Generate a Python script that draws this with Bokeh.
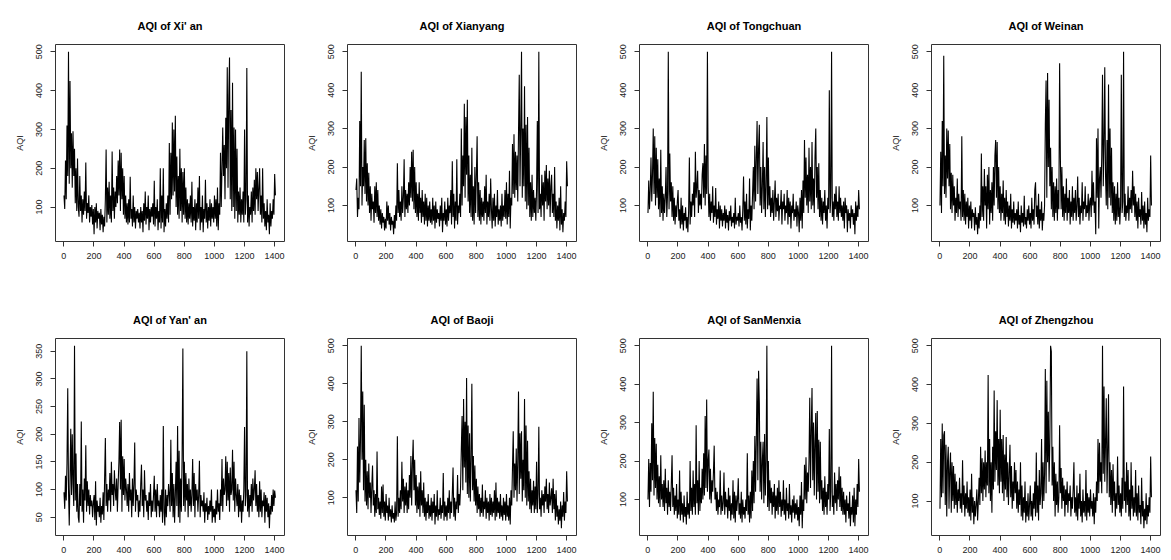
from bokeh.plotting import figure
from bokeh.layouts import column, row
from bokeh.models import Range1d, FixedTicker
from bokeh.embed import file_html
from bokeh.resources import INLINE

DAY_STEP = 5

titles = ["AQI of Xi' an", "AQI of Xianyang", "AQI of Tongchuan", "AQI of Weinan",
          "AQI of Yan' an", "AQI of Baoji", "AQI of SanMenxia", "AQI of Zhengzhou"]

xian = [
    130, 95, 220, 120, 310, 180, 500, 160, 425, 200, 290, 150, 295, 180, 250, 110, 200, 90, 225, 100,
    75, 180, 90, 130, 60, 120, 80, 140, 90, 215, 70, 110, 85, 130, 60, 100, 75, 105, 55, 95,
    30, 100, 60, 110, 45, 90, 70, 85, 40, 95, 55, 80, 35, 75, 50, 120, 248, 60, 150, 80,
    165, 70, 130, 60, 243, 90, 150, 70, 140, 100, 180, 110, 220, 130, 248, 90, 240, 120, 200, 80,
    180, 70, 130, 60, 110, 55, 120, 60, 178, 70, 95, 50, 130, 60, 100, 45, 90, 70, 95, 60,
    85, 45, 100, 60, 90, 35, 110, 65, 140, 55, 100, 70, 130, 40, 95, 60, 100, 75, 110, 55,
    168, 50, 100, 70, 120, 40, 90, 60, 200, 45, 130, 60, 200, 35, 95, 50, 110, 70, 130, 60,
    265, 80, 240, 120, 318, 130, 300, 140, 335, 100, 230, 80, 180, 70, 250, 90, 200, 60, 190, 80,
    200, 70, 150, 60, 120, 55, 110, 70, 130, 60, 165, 50, 100, 65, 120, 40, 110, 60, 150, 70,
    180, 40, 100, 60, 130, 35, 95, 70, 170, 60, 110, 45, 100, 65, 120, 50, 110, 70, 100, 60,
    130, 70, 120, 50, 150, 40, 110, 80, 240, 100, 200, 305, 180, 260, 120, 330, 200, 460, 150, 380,
    485, 120, 350, 90, 420, 100, 305, 70, 300, 90, 250, 60, 140, 80, 150, 60, 120, 80, 140, 60,
    300, 80, 120, 458, 60, 130, 50, 100, 80, 140, 60, 150, 90, 170, 80, 200, 120, 190, 90, 150,
    200, 80, 130, 60, 200, 70, 110, 50, 90, 40, 120, 60, 80, 30, 110, 50, 90, 70, 120, 80,
    185, 130,
]

xianyang = [
    140, 170, 70, 120, 90, 320, 150, 448, 100, 200, 150, 270, 130, 275, 110, 210, 100, 185, 80, 150,
    60, 130, 90, 110, 55, 150, 80, 160, 70, 140, 60, 100, 50, 90, 40, 80, 55, 70, 35, 65,
    40, 110, 60, 100, 50, 80, 35, 70, 50, 60, 25, 75, 40, 100, 60, 210, 80, 140, 70, 110,
    60, 150, 80, 120, 220, 70, 140, 90, 130, 80, 160, 100, 200, 120, 240, 110, 245, 90, 200, 80,
    160, 70, 130, 60, 160, 80, 120, 55, 140, 70, 110, 50, 130, 60, 120, 45, 100, 60, 110, 55,
    90, 50, 120, 60, 100, 40, 110, 55, 90, 65, 80, 45, 100, 60, 120, 30, 80, 60, 110, 50,
    90, 45, 120, 60, 100, 80, 140, 50, 215, 70, 130, 40, 110, 60, 220, 50, 100, 80, 130, 70,
    300, 100, 230, 150, 365, 120, 330, 180, 375, 110, 230, 80, 180, 70, 250, 60, 150, 50, 200, 80,
    180, 280, 70, 160, 60, 140, 50, 120, 70, 110, 60, 150, 80, 180, 50, 110, 70, 130, 60, 170,
    90, 40, 120, 60, 130, 45, 100, 70, 140, 50, 90, 60, 100, 45, 130, 60, 100, 70, 140, 65,
    160, 50, 130, 70, 190, 40, 120, 100, 260, 130, 285, 120, 240, 140, 230, 110, 290, 440, 150, 300,
    500, 120, 300, 150, 410, 110, 310, 90, 330, 100, 250, 70, 160, 60, 180, 70, 140, 80, 120, 60,
    140, 320, 80, 500, 90, 130, 70, 180, 100, 160, 60, 190, 110, 205, 90, 170, 100, 190, 70, 150,
    180, 80, 130, 70, 200, 60, 110, 40, 100, 60, 120, 35, 150, 50, 90, 30, 80, 60, 110, 70,
    215, 150,
]

tongchuan = [
    80, 165, 90, 140, 225, 110, 180, 300, 130, 280, 100, 250, 120, 220, 90, 170, 70, 245, 80, 150,
    60, 130, 80, 120, 200, 70, 130, 500, 90, 235, 110, 160, 70, 150, 60, 120, 50, 100, 70, 110,
    140, 60, 90, 40, 120, 50, 100, 35, 80, 60, 95, 40, 70, 30, 85, 225, 50, 110, 70, 130,
    100, 160, 70, 240, 120, 150, 190, 80, 140, 100, 130, 90, 180, 210, 120, 260, 100, 230, 130, 500,
    150, 70, 130, 60, 110, 80, 150, 55, 100, 70, 145, 50, 90, 65, 110, 40, 100, 60, 90, 45,
    80, 60, 100, 40, 90, 55, 75, 35, 85, 60, 100, 45, 70, 55, 80, 40, 120, 50, 70, 60,
    80, 45, 100, 55, 70, 35, 90, 175, 60, 110, 50, 130, 40, 90, 65, 170, 35, 100, 60, 130,
    200, 90, 255, 110, 220, 320, 130, 250, 310, 100, 200, 80, 150, 265, 90, 200, 70, 150, 330, 90,
    225, 100, 150, 70, 120, 80, 140, 60, 110, 165, 70, 120, 85, 130, 60, 100, 90, 140, 50, 110,
    90, 130, 60, 100, 80, 140, 50, 120, 70, 110, 40, 100, 80, 130, 60, 90, 70, 110, 45, 100,
    80, 30, 120, 60, 140, 40, 165, 80, 270, 120, 225, 100, 180, 80, 250, 110, 200, 90, 265, 100,
    170, 80, 230, 300, 120, 200, 90, 210, 70, 140, 60, 120, 50, 110, 80, 140, 60, 100, 40, 120,
    90, 400, 80, 120, 500, 70, 110, 60, 130, 90, 150, 70, 110, 60, 150, 80, 120, 70, 100, 60,
    110, 40, 120, 80, 100, 30, 90, 60, 80, 40, 100, 70, 90, 50, 80, 25, 110, 60, 100, 70,
    140, 90,
]

weinan = [
    100, 240, 80, 320, 150, 490, 130, 230, 120, 300, 170, 295, 150, 260, 90, 185, 80, 180, 100, 150,
    60, 120, 80, 170, 70, 130, 90, 110, 60, 280, 70, 140, 60, 130, 50, 110, 70, 120, 40, 100,
    60, 110, 40, 90, 70, 80, 35, 95, 50, 70, 25, 80, 40, 100, 60, 235, 70, 150, 60, 195,
    100, 150, 40, 180, 90, 200, 50, 140, 80, 160, 60, 200, 100, 230, 270, 120, 265, 90, 200, 80,
    150, 60, 130, 80, 165, 60, 120, 50, 140, 70, 110, 45, 100, 60, 130, 40, 90, 55, 110, 50,
    80, 60, 90, 40, 110, 50, 75, 30, 100, 55, 80, 45, 125, 50, 70, 40, 90, 60, 100, 50,
    80, 40, 120, 60, 90, 50, 140, 160, 70, 100, 50, 130, 40, 90, 60, 110, 35, 80, 60, 100,
    310, 425, 120, 445, 200, 375, 150, 250, 90, 200, 70, 160, 60, 150, 80, 170, 60, 140, 90, 470,
    225, 90, 200, 70, 150, 60, 130, 80, 170, 60, 120, 80, 140, 50, 110, 70, 150, 60, 120, 80,
    140, 60, 100, 175, 70, 120, 50, 100, 80, 160, 60, 110, 90, 150, 70, 100, 80, 130, 60, 110,
    120, 70, 190, 100, 160, 80, 110, 25, 275, 120, 300, 40, 170, 200, 120, 230, 440, 150, 260, 460,
    180, 100, 270, 90, 415, 120, 300, 100, 250, 80, 160, 60, 150, 50, 130, 60, 160, 70, 120, 50,
    100, 440, 80, 110, 500, 70, 130, 60, 100, 80, 150, 60, 120, 90, 140, 80, 190, 100, 150, 70,
    130, 60, 110, 40, 120, 70, 90, 50, 135, 60, 100, 40, 110, 50, 80, 30, 120, 60, 90, 70,
    230, 100,
]

yanan = [
    95, 65, 125, 80, 148, 283, 100, 35, 120, 210, 90, 200, 110, 70, 360, 80, 165, 60, 110, 50,
    40, 110, 70, 223, 60, 100, 40, 120, 80, 180, 60, 115, 70, 100, 55, 90, 70, 80, 50, 75,
    90, 45, 115, 35, 80, 60, 70, 50, 85, 40, 70, 55, 95, 45, 120, 193, 70, 110, 60, 100,
    80, 130, 60, 150, 90, 110, 70, 135, 100, 80, 120, 60, 110, 150, 222, 100, 226, 60, 160, 90,
    155, 80, 120, 100, 70, 110, 60, 130, 80, 100, 50, 120, 70, 110, 185, 60, 100, 80, 90, 50,
    80, 60, 110, 145, 70, 100, 50, 135, 80, 90, 60, 80, 45, 95, 70, 110, 50, 80, 60, 90,
    125, 60, 100, 50, 110, 70, 80, 50, 90, 60, 100, 40, 215, 60, 35, 100, 50, 90, 70, 110,
    90, 60, 190, 70, 130, 50, 110, 40, 90, 150, 70, 215, 50, 170, 40, 120, 60, 160, 355, 70,
    150, 60, 130, 80, 110, 50, 120, 70, 100, 60, 90, 155, 70, 130, 50, 110, 80, 100, 60, 90,
    152, 50, 90, 70, 80, 60, 95, 40, 75, 60, 85, 45, 70, 55, 80, 60, 100, 40, 70, 50,
    65, 40, 80, 55, 100, 60, 75, 45, 100, 70, 155, 60, 120, 90, 100, 160, 70, 150, 80, 130,
    60, 140, 90, 100, 172, 80, 150, 60, 120, 90, 70, 110, 50, 100, 60, 90, 40, 80, 60, 100,
    213, 70, 90, 350, 60, 100, 50, 90, 70, 110, 60, 120, 80, 100, 135, 70, 110, 60, 90, 50,
    115, 60, 100, 50, 80, 70, 95, 40, 90, 60, 85, 50, 75, 30, 70, 55, 90, 60, 100, 70,
    98, 85,
]

baoji = [
    120, 60, 235, 90, 310, 140, 255, 500, 200, 380, 120, 345, 90, 200, 80, 170, 70, 190, 100, 140,
    60, 130, 185, 80, 120, 50, 110, 60, 222, 70, 100, 55, 90, 45, 130, 60, 135, 50, 90, 40,
    110, 60, 80, 40, 100, 50, 70, 35, 80, 45, 60, 35, 90, 40, 60, 262, 50, 100, 60, 120,
    70, 195, 90, 150, 60, 130, 80, 140, 60, 120, 70, 160, 100, 210, 80, 190, 253, 120, 200, 80,
    160, 60, 130, 70, 140, 50, 170, 80, 120, 60, 140, 50, 100, 40, 90, 60, 110, 45, 80, 50,
    100, 40, 90, 60, 110, 30, 80, 50, 120, 40, 70, 55, 100, 45, 80, 60, 165, 40, 90, 50,
    80, 40, 100, 60, 120, 45, 90, 60, 110, 180, 50, 100, 40, 90, 70, 160, 60, 110, 80, 130,
    230, 315, 120, 360, 180, 300, 140, 415, 110, 290, 100, 270, 90, 200, 400, 120, 210, 90, 185, 80,
    150, 60, 130, 70, 110, 50, 100, 60, 135, 50, 90, 70, 120, 45, 100, 60, 90, 40, 110, 55,
    100, 50, 90, 60, 120, 40, 140, 50, 100, 60, 90, 45, 110, 50, 80, 40, 100, 55, 90, 40,
    110, 50, 80, 40, 100, 30, 120, 80, 180, 275, 100, 190, 120, 230, 90, 200, 380, 110, 270, 150,
    275, 90, 200, 120, 360, 100, 290, 80, 250, 90, 170, 70, 150, 60, 120, 80, 145, 60, 130, 70,
    195, 60, 110, 287, 70, 100, 50, 120, 80, 110, 60, 130, 90, 150, 70, 110, 60, 140, 80, 100,
    125, 60, 150, 70, 110, 40, 120, 50, 80, 30, 70, 40, 90, 20, 80, 50, 115, 40, 90, 60,
    170, 90,
]

sanmenxia = [
    100, 205, 80, 195, 120, 298, 150, 380, 110, 260, 130, 245, 100, 190, 90, 160, 80, 215, 100, 140,
    80, 150, 70, 180, 90, 130, 60, 150, 80, 120, 70, 140, 215, 80, 130, 60, 110, 70, 140, 50,
    100, 60, 175, 45, 120, 60, 90, 40, 110, 55, 80, 35, 120, 60, 90, 50, 200, 70, 130, 60,
    175, 80, 140, 60, 293, 90, 150, 60, 200, 70, 130, 90, 180, 100, 220, 110, 317, 130, 360, 120,
    200, 230, 100, 180, 90, 150, 120, 170, 240, 100, 130, 70, 120, 60, 100, 80, 175, 60, 110, 70,
    90, 170, 60, 120, 80, 100, 50, 130, 70, 110, 45, 90, 60, 150, 50, 120, 40, 110, 70, 100,
    155, 60, 90, 50, 120, 40, 100, 60, 80, 50, 100, 70, 220, 60, 110, 40, 120, 50, 175, 70,
    200, 90, 265, 120, 260, 415, 150, 435, 350, 120, 250, 100, 200, 250, 90, 270, 110, 200, 500, 80,
    200, 70, 150, 90, 130, 60, 120, 80, 140, 50, 110, 70, 130, 60, 150, 80, 120, 55, 100, 70,
    150, 60, 100, 45, 130, 70, 90, 50, 140, 60, 85, 40, 100, 65, 110, 50, 90, 60, 100, 45,
    80, 30, 110, 60, 145, 25, 100, 70, 190, 100, 210, 90, 170, 120, 200, 365, 130, 280, 390, 150,
    300, 110, 250, 325, 100, 330, 120, 255, 90, 250, 100, 150, 70, 130, 60, 160, 80, 120, 60, 140,
    100, 283, 70, 120, 500, 80, 110, 60, 170, 90, 140, 70, 150, 100, 185, 80, 160, 70, 130, 60,
    120, 60, 100, 40, 110, 70, 90, 50, 120, 30, 80, 60, 110, 40, 130, 30, 100, 60, 140, 80,
    205, 120,
]

zhengzhou = [
    80, 260, 110, 300, 120, 270, 280, 90, 245, 60, 200, 240, 80, 180, 225, 70, 200, 100, 190, 80,
    170, 90, 150, 70, 130, 100, 160, 80, 120, 70, 205, 90, 140, 60, 120, 80, 150, 70, 110, 60,
    130, 50, 170, 70, 110, 40, 100, 60, 90, 130, 50, 100, 160, 90, 240, 120, 210, 100, 200, 130,
    230, 110, 200, 140, 425, 120, 260, 100, 200, 70, 240, 130, 385, 150, 280, 180, 360, 140, 260, 120,
    335, 150, 260, 120, 270, 100, 220, 130, 265, 110, 200, 90, 170, 245, 110, 190, 80, 150, 100, 200,
    120, 180, 80, 150, 70, 130, 90, 200, 60, 140, 50, 110, 70, 150, 45, 100, 60, 120, 50, 90,
    140, 60, 100, 50, 120, 80, 150, 60, 225, 70, 140, 50, 180, 90, 120, 260, 80, 200, 100, 170,
    440, 120, 410, 200, 330, 150, 250, 500, 485, 140, 240, 100, 200, 60, 170, 90, 150, 70, 110, 295,
    120, 185, 80, 160, 100, 140, 60, 130, 90, 150, 70, 120, 100, 140, 60, 110, 80, 130, 200, 70,
    110, 60, 140, 50, 120, 80, 170, 60, 100, 45, 130, 70, 100, 60, 180, 50, 120, 70, 110, 60,
    130, 80, 100, 60, 120, 40, 110, 70, 150, 100, 260, 120, 250, 150, 200, 120, 500, 170, 395, 150,
    250, 365, 120, 230, 375, 110, 200, 90, 180, 70, 195, 100, 150, 60, 120, 80, 215, 90, 140, 70,
    120, 60, 160, 80, 395, 100, 150, 70, 200, 90, 180, 60, 130, 50, 200, 80, 140, 60, 110, 70,
    180, 60, 120, 50, 140, 70, 90, 40, 160, 60, 100, 30, 80, 50, 120, 40, 90, 60, 110, 70,
    215, 110,
]

series = [xian, xianyang, tongchuan, weinan, yanan, baoji, sanmenxia, zhengzhou]

x_ticks = [0, 200, 400, 600, 800, 1000, 1200, 1400]
y_ticks_main = [100, 200, 300, 400, 500]
y_ticks_yanan = [50, 100, 150, 200, 250, 300, 350]
y_ticks = [y_ticks_main] * 4 + [y_ticks_yanan] + [y_ticks_main] * 3

FONT = "Liberation Sans"
N_DAYS = 1410


def make_panel(title, ys, yt, top_row):
    xs = [1 + DAY_STEP * i for i in range(len(ys))]
    lo, hi = min(ys), max(ys)
    pad = 0.04 * (hi - lo)
    xpad = 0.04 * (N_DAYS - 1)
    if top_row:
        h, bt, bb = 283, 44, 42
    else:
        h, bt, bb = 276, 55, 24
    p = figure(width=292, height=h, output_backend="svg", toolbar_location=None,
               x_range=Range1d(1 - xpad, N_DAYS + xpad),
               y_range=Range1d(lo - pad, hi + pad),
               min_border_left=55, min_border_right=8,
               min_border_top=bt, min_border_bottom=bb)
    p.line(xs, ys, line_color="black", line_width=1.1)
    p.title.text = title
    p.title.align = "center"
    p.title.text_font = FONT
    p.title.text_font_size = "11px"
    p.title.text_font_style = "bold"
    p.title.text_color = "black"
    p.title.standoff = 25
    p.xgrid.visible = False
    p.ygrid.visible = False
    p.outline_line_color = "#333333"
    p.outline_line_width = 1
    p.background_fill_color = "white"
    p.border_fill_color = "white"

    p.xaxis.ticker = FixedTicker(ticks=x_ticks, minor_ticks=[])
    p.yaxis.ticker = FixedTicker(ticks=yt, minor_ticks=[])
    p.yaxis.axis_label = "AQI"
    p.yaxis.major_label_orientation = "vertical"
    for ax in (p.xaxis, p.yaxis):
        ax.axis_line_color = None
        ax.major_tick_out = 5
        ax.major_tick_in = 0
        ax.major_tick_line_color = "#333333"
        ax.major_label_text_font = FONT
        ax.major_label_text_font_size = "9px"
        ax.major_label_text_color = "#222222"
        ax.axis_label_text_font = FONT
        ax.axis_label_text_font_size = "9px"
        ax.axis_label_text_font_style = "normal"
        ax.axis_label_text_color = "#222222"
        ax.axis_label_standoff = 9
    p.xaxis.major_label_standoff = 6
    p.yaxis.major_label_standoff = 8
    return p


panels = [make_panel(titles[i], series[i], y_ticks[i], i < 4) for i in range(8)]
layout = column(row(*panels[:4]), row(*panels[4:]))

open("out.html", "w").write(file_html(layout, INLINE))
